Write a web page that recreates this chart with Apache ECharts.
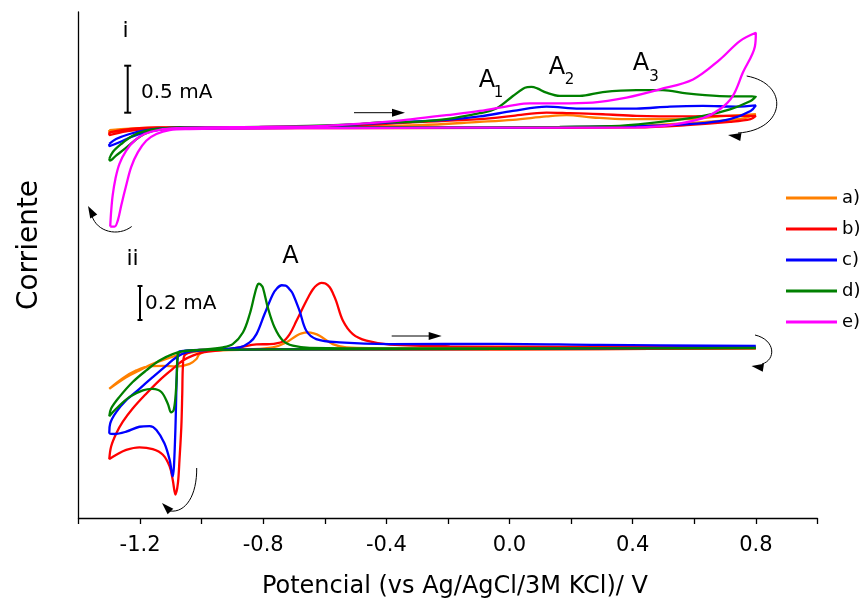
<!DOCTYPE html>
<html>
<head>
<meta charset="utf-8">
<script src="https://cdn.jsdelivr.net/npm/echarts@6/dist/echarts.min.js"></script>
<style>
html,body{margin:0;padding:0;background:#fff;}
#c{width:863px;height:604px;}
</style>
</head>
<body>
<div id="c"></div>
<script>
// ---------- data (potential in V, current in mA, each panel relative to its own baseline) ----------
const legendNames = ['a)', 'b)', 'c)', 'd)', 'e)'];
const xTicks = [-1.2, -0.8, -0.4, 0.0, 0.4, 0.8];

// Panel i
const iA_x = [-1.30,-1.234,-1.137,-0.682,-0.292,-0.097,0.011,0.120,0.185,0.271,0.380,0.575,0.683,0.80,0.759,0.683,0.521,0.358,-0.032,-0.682,-1.137,-1.234,-1.30,-1.30];
const iA_y = [-0.032,-0.016,-0.005,-0.002,0.021,0.056,0.078,0.114,0.128,0.103,0.085,0.085,0.114,0.138,0.093,0.067,0.032,0.007,-0.005,-0.009,-0.016,-0.032,-0.053,-0.032];

const iB_x = [-1.30,-1.256,-1.202,-1.147,-0.844,-0.519,-0.315,-0.097,0.011,0.120,0.196,0.303,0.412,0.575,0.683,0.80,0.783,0.716,0.575,0.412,-0.032,-0.682,-1.007,-1.180,-1.245,-1.30,-1.30];
const iB_y = [-0.056,-0.029,-0.011,-0.003,0,0.016,0.050,0.085,0.120,0.156,0.149,0.138,0.120,0.114,0.120,0.120,0.085,0.056,0.021,-0.003,-0.009,-0.011,-0.016,-0.021,-0.046,-0.085,-0.056];

const iC_x = [-1.30,-1.278,-1.234,-1.180,-1.115,-1.007,-0.682,-0.422,-0.205,-0.097,0.011,0.120,0.228,0.326,0.412,0.521,0.628,0.737,0.80,0.783,0.716,0.629,0.521,0.358,-0.032,-0.682,-1.007,-1.115,-1.169,-1.224,-1.267,-1.30,-1.30];
const iC_y = [-0.181,-0.128,-0.074,-0.032,-0.011,-0.003,0,0.043,0.078,0.114,0.173,0.220,0.199,0.199,0.199,0.220,0.227,0.220,0.234,0.173,0.085,0.043,0.021,0.007,-0.005,-0.007,-0.014,-0.021,-0.046,-0.099,-0.163,-0.205,-0.181];

const iD_x = [-1.30,-1.289,-1.261,-1.224,-1.180,-1.126,-1.061,-0.812,-0.487,-0.422,-0.315,-0.205,-0.097,-0.043,0.011,0.044,0.058,0.071,0.090,0.120,0.163,0.228,0.303,0.412,0.498,0.575,0.683,0.80,0.783,0.716,0.629,0.521,0.358,0.163,-0.097,-0.682,-1.007,-1.147,-1.186,-1.218,-1.250,-1.278,-1.298,-1.30];
const iD_y = [-0.340,-0.269,-0.181,-0.093,-0.039,-0.014,-0.003,0.002,0.032,0.050,0.056,0.085,0.149,0.199,0.333,0.412,0.428,0.431,0.415,0.369,0.335,0.335,0.376,0.397,0.397,0.362,0.333,0.327,0.280,0.191,0.120,0.067,0.014,0.003,-0.002,-0.005,-0.011,-0.032,-0.074,-0.146,-0.234,-0.305,-0.359,-0.340];

const iE_x = [-1.297,-1.294,-1.289,-1.280,-1.267,-1.245,-1.218,-1.186,-1.137,-1.072,-0.985,-0.812,-0.617,-0.422,-0.315,-0.205,-0.097,0.010,0.066,0.163,0.270,0.380,0.488,0.596,0.683,0.748,0.800,0.797,0.758,0.725,0.683,0.628,0.521,0.412,0.163,-0.054,-0.357,-0.682,-0.909,-1.039,-1.104,-1.147,-1.180,-1.207,-1.229,-1.245,-1.261,-1.272,-1.283,-1.297];
const iE_y = [-1.067,-0.907,-0.731,-0.553,-0.394,-0.252,-0.146,-0.074,-0.029,-0.011,-0.003,0.002,0.011,0.050,0.085,0.128,0.173,0.234,0.255,0.255,0.263,0.316,0.404,0.511,0.723,0.922,1.011,0.865,0.585,0.333,0.191,0.096,0.021,-0.003,-0.005,-0.005,-0.009,-0.011,-0.016,-0.021,-0.032,-0.074,-0.146,-0.269,-0.429,-0.624,-0.837,-0.997,-1.067,-1.067];

// Panel ii
const iiA_x = [0.80,-0.032,-0.682,-0.974,-1.007,-1.017,-1.039,-1.082,-1.126,-1.169,-1.212,-1.256,-1.30,-1.277,-1.245,-1.202,-1.159,-1.115,-1.072,-1.029,-0.974,-0.844,-0.769,-0.725,-0.692,-0.675,-0.655,-0.636,-0.617,-0.574,-0.530,-0.357,0.80];
const iiA_y = [0.006,0,0,-0.006,-0.028,-0.057,-0.086,-0.102,-0.098,-0.100,-0.125,-0.171,-0.234,-0.204,-0.165,-0.125,-0.086,-0.057,-0.031,-0.016,-0.008,0,0.012,0.041,0.081,0.095,0.100,0.095,0.081,0.031,0.012,0.006,0.006];

const iiB_x = [0.80,-0.032,-0.682,-1.007,-1.039,-1.056,-1.061,-1.063,-1.066,-1.072,-1.077,-1.085,-1.094,-1.104,-1.126,-1.159,-1.202,-1.245,-1.277,-1.30,-1.294,-1.277,-1.256,-1.224,-1.180,-1.137,-1.094,-1.061,-1.029,-0.996,-0.931,-0.877,-0.822,-0.779,-0.736,-0.714,-0.692,-0.666,-0.652,-0.639,-0.625,-0.611,-0.598,-0.584,-0.573,-0.563,-0.541,-0.509,-0.465,-0.389,-0.194,0.293,0.80];
const iiB_y = [0.006,0,0,-0.003,-0.018,-0.037,-0.106,-0.263,-0.459,-0.655,-0.792,-0.861,-0.773,-0.694,-0.625,-0.592,-0.581,-0.596,-0.625,-0.651,-0.576,-0.498,-0.429,-0.351,-0.263,-0.184,-0.116,-0.066,-0.037,-0.018,-0.003,0.012,0.029,0.031,0.047,0.090,0.169,0.266,0.315,0.355,0.382,0.394,0.390,0.368,0.330,0.286,0.169,0.090,0.051,0.028,0.018,0.015,0.012];

const iiC_x = [0.80,-0.032,-0.682,-1.007,-1.072,-1.077,-1.081,-1.085,-1.090,-1.094,-1.104,-1.121,-1.147,-1.169,-1.202,-1.245,-1.283,-1.30,-1.297,-1.277,-1.245,-1.202,-1.159,-1.115,-1.082,-1.050,-1.007,-0.877,-0.844,-0.822,-0.796,-0.769,-0.755,-0.740,-0.727,-0.714,-0.704,-0.682,-0.660,-0.628,-0.552,-0.389,-0.032,0.293,0.80];
const iiC_y = [0.012,0.003,0,-0.003,-0.012,-0.028,-0.165,-0.459,-0.694,-0.753,-0.655,-0.557,-0.478,-0.455,-0.459,-0.488,-0.502,-0.494,-0.439,-0.371,-0.302,-0.234,-0.165,-0.096,-0.047,-0.018,-0.008,0.012,0.041,0.090,0.208,0.325,0.362,0.380,0.378,0.355,0.330,0.228,0.110,0.061,0.041,0.031,0.032,0.026,0.021];

const iiD_x = [0.80,-0.032,-0.682,-1.007,-1.062,-1.077,-1.081,-1.085,-1.091,-1.099,-1.110,-1.131,-1.159,-1.191,-1.234,-1.277,-1.30,-1.294,-1.267,-1.224,-1.180,-1.137,-1.094,-1.061,-1.007,-0.931,-0.899,-0.866,-0.844,-0.828,-0.821,-0.815,-0.809,-0.801,-0.785,-0.763,-0.736,-0.704,-0.649,-0.357,0.80];
const iiD_y = [0.009,0.003,0,-0.004,-0.012,-0.028,-0.165,-0.282,-0.361,-0.374,-0.322,-0.253,-0.234,-0.243,-0.282,-0.351,-0.396,-0.351,-0.282,-0.194,-0.125,-0.066,-0.028,-0.012,-0.004,0.012,0.031,0.100,0.208,0.325,0.370,0.390,0.385,0.365,0.247,0.129,0.051,0.022,0.009,0.006,0.006];

// ---------- chart ----------
const colors = ['#FF8000', '#FF0000', '#0000FF', '#008000', '#FF00FF'];
const FONT = 'DejaVu Sans';
const zip = (xs, ys) => xs.map((x, i) => [x, ys[i]]);

const panelI = [[iA_x, iA_y], [iB_x, iB_y], [iC_x, iC_y], [iD_x, iD_y], [iE_x, iE_y]];
const panelII = [[iiA_x, iiA_y], [iiB_x, iiB_y], [iiC_x, iiC_y], [iiD_x, iiD_y]];

const series = [];
panelI.forEach((p, k) => series.push({
  name: legendNames[k], type: 'line', xAxisIndex: 0, yAxisIndex: 0,
  data: zip(p[0], p[1]), showSymbol: false, symbol: 'none', smooth: 0.35,
  lineStyle: { color: colors[k], width: 2.3 }, itemStyle: { color: colors[k] }, z: 2 + k
}));
panelII.forEach((p, k) => series.push({
  name: legendNames[k], type: 'line', xAxisIndex: 0, yAxisIndex: 1,
  data: zip(p[0], p[1]), showSymbol: false, symbol: 'none', smooth: 0.35,
  lineStyle: { color: colors[k], width: 2.3 }, itemStyle: { color: colors[k] }, z: 2 + k
}));

function head(tx, ty, ang, L, W) {
  const c = Math.cos(ang), s = Math.sin(ang);
  const bx = tx - L * c, by = ty - L * s;
  return [[tx, ty], [bx - W * s, by + W * c], [bx + W * s, by - W * c]];
}
const blk = { stroke: '#000', lineWidth: 1, fill: null };
const txt = (x, y, t, size, align) => ({ type: 'text', x: x, y: y, style: { text: t, font: size + 'px "' + FONT + '"', fill: '#000', align: align || 'center', verticalAlign: 'middle' } });
const bar = (x, y1, y2, w) => [
  { type: 'line', shape: { x1: x, y1: y1, x2: x, y2: y2 }, style: { stroke: '#000', lineWidth: 2 } },
  { type: 'line', shape: { x1: x - w, y1: y1, x2: x + w, y2: y1 }, style: { stroke: '#000', lineWidth: 2 } },
  { type: 'line', shape: { x1: x - w, y1: y2, x2: x + w, y2: y2 }, style: { stroke: '#000', lineWidth: 2 } }
];

const graphics = [
  txt(125.5, 31.5, 'i', 22), txt(132.5, 259, 'ii', 22),
  ...bar(127.7, 65.7, 112.7, 3.5), txt(141, 93, '0.5 mA', 20, 'left'),
  ...bar(140, 286, 320, 2.5), txt(145, 303.5, '0.2 mA', 20, 'left'),
  txt(487, 81, 'A', 24), txt(498.5, 93, '1', 15),
  txt(557, 68, 'A', 24), txt(569.5, 80.5, '2', 15),
  txt(641, 64, 'A', 24), txt(654, 77, '3', 15),
  txt(290.5, 256.5, 'A', 24),
  // straight arrows
  { type: 'line', shape: { x1: 354, y1: 112.7, x2: 396, y2: 112.7 }, style: { stroke: '#000', lineWidth: 1 } },
  { type: 'polygon', shape: { points: head(405, 112.7, 0, 13, 4) }, style: { fill: '#000' } },
  { type: 'line', shape: { x1: 391.7, y1: 336, x2: 432, y2: 336 }, style: { stroke: '#000', lineWidth: 1 } },
  { type: 'polygon', shape: { points: head(441.7, 336, 0, 13, 4) }, style: { fill: '#000' } },
  // curved arrows
  { type: 'bezierCurve', shape: { x1: 746.7, y1: 76, cpx1: 790, cpy1: 84, cpx2: 786, cpy2: 130, x2: 738, y2: 133 }, style: blk },
  { type: 'polygon', shape: { points: head(728, 135, Math.PI + 0.15, 13, 4) }, style: { fill: '#000' } },
  { type: 'bezierCurve', shape: { x1: 131.7, y1: 226.5, cpx1: 118, cpy1: 237, cpx2: 97, cpy2: 232, x2: 92, y2: 216 }, style: blk },
  { type: 'polygon', shape: { points: head(88, 206, -Math.PI / 2 - 0.5, 12, 4) }, style: { fill: '#000' } },
  { type: 'bezierCurve', shape: { x1: 196.7, y1: 468, cpx1: 197, cpy1: 495, cpx2: 186, cpy2: 513, x2: 170, y2: 511 }, style: blk },
  { type: 'polygon', shape: { points: head(162, 503, -Math.PI * 0.75, 12, 4) }, style: { fill: '#000' } },
  { type: 'bezierCurve', shape: { x1: 755, y1: 335, cpx1: 776, cpy1: 340, cpx2: 776, cpy2: 360, x2: 762, y2: 364 }, style: blk },
  { type: 'polygon', shape: { points: head(751.5, 366, Math.PI + 0.15, 12, 4) }, style: { fill: '#000' } }
];

const chart = echarts.init(document.getElementById('c'), null, { renderer: 'canvas' });
chart.setOption({
  animation: false,
  backgroundColor: '#fff',
  textStyle: { fontFamily: FONT },
  grid: { left: 78.5, right: 45.6, top: 12, bottom: 81.5, containLabel: false },
  legend: {
    data: legendNames, orient: 'vertical', left: 786, top: 189, padding: 0,
    itemWidth: 51, itemHeight: 14, itemGap: 13,
    textStyle: { fontFamily: FONT, fontSize: 18, color: '#000', padding: [0, 0, 0, 0] },
    icon: 'path://M0,0 L51,0 L51,3 L0,3 Z', selectedMode: false
  },
  xAxis: [{
    type: 'value', min: -1.4, max: 1.0, interval: 0.2,
    name: 'Potencial (vs Ag/AgCl/3M KCl)/ V', nameLocation: 'middle', nameGap: 57,
    nameTextStyle: { fontFamily: FONT, fontSize: 24, color: '#000', padding: [0, 0, 0, 14] },
    axisLine: { show: true, onZero: false, lineStyle: { color: '#000', width: 1.3 } },
    axisTick: { show: true, inside: false, length: 6, lineStyle: { color: '#000', width: 1.3 } },
    axisLabel: {
      show: true, margin: 17, fontSize: 21, color: '#000', fontFamily: FONT,
      formatter: function (v) {
        const r = Math.round(v * 10) / 10;
        return xTicks.some(t => Math.abs(t - r) < 1e-6) ? r.toFixed(1) : '';
      }
    },
    splitLine: { show: false }
  }],
  yAxis: [{
    type: 'value', min: -4.191, max: 1.234, position: 'left',
    name: 'Corriente', nameLocation: 'middle', nameGap: 35, nameRotate: 90,
    nameTextStyle: { fontFamily: FONT, fontSize: 28, color: '#000', padding: [0, 0, 0, 40] },
    axisLine: { show: true, onZero: false, lineStyle: { color: '#000', width: 1.3 } },
    axisTick: { show: false }, axisLabel: { show: false }, splitLine: { show: false }
  }, {
    type: 'value', min: -1.0, max: 2.0, position: 'left', show: false,
    axisLine: { show: false }, axisTick: { show: false }, axisLabel: { show: false }, splitLine: { show: false }
  }],
  series: series,
  graphic: graphics
});
</script>
</body>
</html>
